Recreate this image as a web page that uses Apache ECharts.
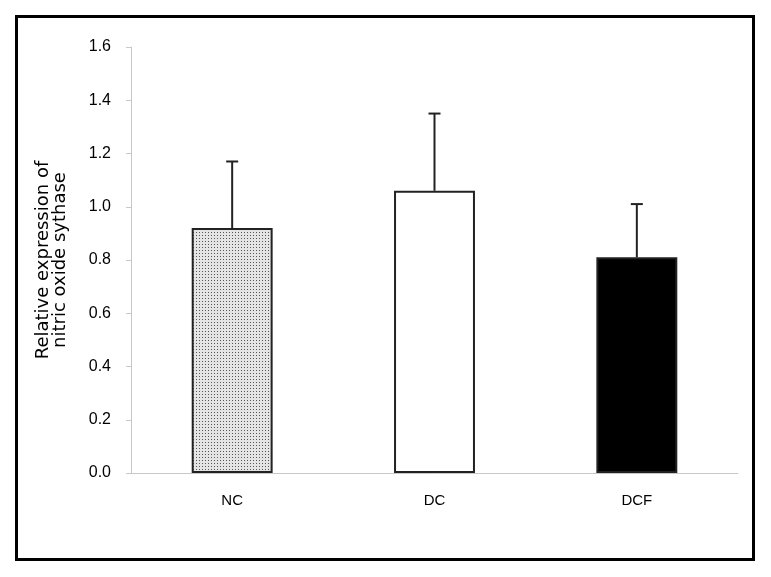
<html>
<head>
    <meta charset='UTF-8'>
    <title></title>
    <style>
        html, body { margin: 0; padding: 0; background: #ffffff; }
        #chart { width: 771px; height: 577px; }
    </style>
</head>
<body>
<div id='chart'></div>
<script src='https://cdn.jsdelivr.net/npm/echarts@6/dist/echarts.min.js'></script>
<script>
    // data
    var groups = ['NC', 'DC', 'DCF'];
    var means = [0.92, 1.06, 0.81];
    var errs = [0.25, 0.29, 0.20];
    var yTicks = ['0.0', '0.2', '0.4', '0.6', '0.8', '1.0', '1.2', '1.4', '1.6'];

    // dotted fill for NC
    function dots() {
        var c = document.createElement('canvas');
        c.width = 3; c.height = 3;
        var ctx = c.getContext('2d');
        ctx.fillStyle = '#e4e4e4';
        ctx.fillRect(0, 0, 3, 3);
        ctx.fillStyle = '#555555';
        ctx.fillRect(1, 1, 1, 1);
        return c;
    }
    var fills = [{ image: dots(), repeat: 'repeat' }, '#ffffff', '#000000'];

    var chart = echarts.init(document.getElementById('chart'));
    var option = {
        animation: false,
        graphic: [{
            type: 'rect',
            shape: { x: 16.5, y: 16.5, width: 737, height: 543 },
            style: { fill: 'none', stroke: '#000', lineWidth: 3 }
        }],
        grid: { left: 131, right: 33, top: 47, bottom: 104 },
        xAxis: {
            type: 'category',
            data: groups,
            axisLine: { lineStyle: { color: '#c8c8c8', width: 1 } },
            axisTick: { inside: true, length: 5, lineStyle: { color: '#c8c8c8' } },
            axisLabel: { color: '#000', fontSize: 15, fontFamily: 'Liberation Sans', margin: 20 }
        },
        yAxis: {
            type: 'value',
            min: 0, max: 1.6, interval: 0.2,
            name: 'Relative expression of\nnitric oxide sythase',
            nameLocation: 'middle',
            nameGap: 62,
            nameTextStyle: { color: '#000', fontSize: 18, fontFamily: 'DejaVu Sans', lineHeight: 17 },
            axisLine: { show: true, lineStyle: { color: '#c8c8c8', width: 1 } },
            axisTick: { show: true, length: 5, lineStyle: { color: '#c8c8c8' } },
            splitLine: { show: false },
            axisLabel: {
                color: '#000', fontSize: 16, fontFamily: 'Liberation Sans', margin: 20,
                formatter: function (v) { return yTicks[Math.round(v / 0.2)]; }
            }
        },
        series: [
            {
                type: 'bar',
                barWidth: '40%',
                data: means.map(function (v, i) {
                    return { value: v, itemStyle: { color: fills[i] } };
                }),
                itemStyle: { borderColor: '#222', borderWidth: 2 }
            },
            {
                type: 'custom',
                data: means.map(function (v, i) { return [i, v, v + errs[i]]; }),
                renderItem: function (params, api) {
                    var b = api.coord([api.value(0), api.value(1)]);
                    var t = api.coord([api.value(0), api.value(2)]);
                    var st = { stroke: '#222', lineWidth: 2 };
                    return {
                        type: 'group',
                        children: [
                            { type: 'line', shape: { x1: b[0], y1: b[1], x2: t[0], y2: t[1] }, style: st },
                            { type: 'line', shape: { x1: t[0] - 6, y1: t[1], x2: t[0] + 6, y2: t[1] }, style: st }
                        ]
                    };
                },
                z: 3
            }
        ]
    };
    chart.setOption(option);
</script>
</body>
</html>
